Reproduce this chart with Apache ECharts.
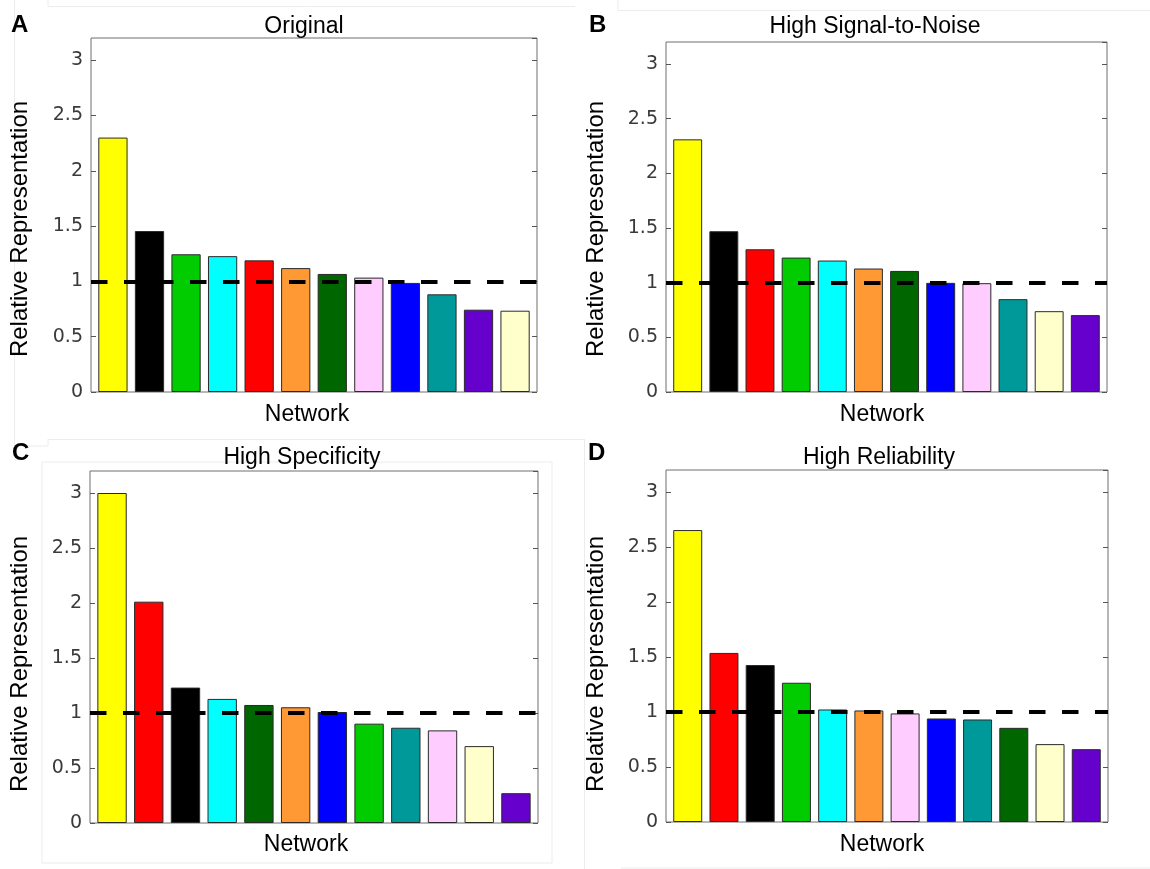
<!DOCTYPE html>
<html>
<head>
<meta charset="utf-8">
<script src="https://cdn.jsdelivr.net/npm/echarts@6/dist/echarts.min.js"></script>
<style>
  html, body { margin: 0; padding: 0; background: #fff; }
  #chart { width: 1150px; height: 869px; }
</style>
</head>
<body>
<div id="chart"></div>
<script>
// network colours (MATLAB style)
const palette = {
  yellow: '#ffff00', black: '#000000', green: '#00cc00', cyan: '#00ffff',
  red: '#ff0000', orange: '#ff9933', darkGreen: '#006600', pink: '#ffccff',
  blue: '#0000ff', teal: '#009999', purple: '#6600cc', cream: '#ffffcc'
};

// panel data
const panelLetters = ['A', 'B', 'C', 'D'];
const panelTitles = ['Original', 'High Signal-to-Noise', 'High Specificity', 'High Reliability'];

const orderA = ['yellow', 'black', 'green', 'cyan', 'red', 'orange', 'darkGreen', 'pink', 'blue', 'teal', 'purple', 'cream'];
const valuesA = [2.30, 1.455, 1.245, 1.228, 1.19, 1.12, 1.067, 1.034, 0.986, 0.883, 0.744, 0.735];

const orderB = ['yellow', 'black', 'red', 'green', 'cyan', 'orange', 'darkGreen', 'blue', 'pink', 'teal', 'cream', 'purple'];
const valuesB = [2.31, 1.47, 1.305, 1.229, 1.202, 1.129, 1.107, 0.998, 0.995, 0.849, 0.739, 0.703];

const orderC = ['yellow', 'red', 'black', 'cyan', 'darkGreen', 'orange', 'blue', 'green', 'teal', 'pink', 'cream', 'purple'];
const valuesC = [3.0, 2.012, 1.231, 1.128, 1.073, 1.052, 1.009, 0.903, 0.866, 0.842, 0.699, 0.271];

const orderD = ['yellow', 'red', 'black', 'green', 'cyan', 'orange', 'pink', 'blue', 'teal', 'darkGreen', 'cream', 'purple'];
const valuesD = [2.654, 1.537, 1.427, 1.266, 1.023, 1.014, 0.987, 0.941, 0.932, 0.856, 0.708, 0.662];

const yTicks = [0, 0.5, 1, 1.5, 2, 2.5, 3];
const referenceLevel = 1;

const orders = [orderA, orderB, orderC, orderD];
const values = [valuesA, valuesB, valuesC, valuesD];

// layout of the four axes boxes
const boxes = [
  { left: 91, top: 38, width: 446, height: 354 },
  { left: 666, top: 42, width: 441, height: 350 },
  { left: 90, top: 471, width: 448, height: 352 },
  { left: 666, top: 470, width: 442, height: 352 }
];
const titlePos = [[304, 15], [875, 15], [302, 446], [879, 446]];
const xNamePos = [[307, 403], [882, 403], [306, 833], [882, 833]];
const yNamePos = [[20, 229], [596, 229], [20, 664], [596, 664]];
const letterPos = [[11, 13], [589, 13], [12, 441], [588, 441]];

const font = 'Liberation Sans, Arial, Helvetica, sans-serif';

var myChart = echarts.init(document.getElementById('chart'));

let grid = [], xAxis = [], yAxis = [], series = [], graphic = [];

for (let i = 0; i < 4; i++) {
  const b = boxes[i];
  grid.push({
    left: b.left, top: b.top, width: b.width, height: b.height,
    show: true, borderColor: '#6e6e6e', borderWidth: 1, backgroundColor: '#fff'
  });
  xAxis.push({
    gridIndex: i, type: 'value', min: 0.4, max: 12.6,
    axisLine: { show: false }, axisTick: { show: false },
    axisLabel: { show: false }, splitLine: { show: false }
  });
  const yCommon = {
    gridIndex: i, type: 'value', min: 0, max: 3.2, interval: 0.5,
    axisLine: { show: false }, splitLine: { show: false },
    axisTick: { show: true, inside: true, length: 5, lineStyle: { color: '#555' } }
  };
  yAxis.push(Object.assign({}, yCommon, {
    position: 'left',
    axisLabel: {
      show: true, margin: 8, fontSize: 19, color: '#3a3a3a',
      fontFamily: 'DejaVu Sans', showMaxLabel: false,
      formatter: v => (yTicks.indexOf(v) >= 0 ? String(v) : '')
    }
  }));
  yAxis.push(Object.assign({}, yCommon, {
    position: 'right', axisLabel: { show: false }
  }));

  const data = values[i].map((v, k) => ({
    value: [k + 1, v],
    itemStyle: { color: palette[orders[i][k]] }
  }));
  series.push({
    type: 'bar',
    xAxisIndex: i,
    yAxisIndex: 2 * i,
    barWidth: 0.8 * b.width / 12.2,
    data: data,
    itemStyle: { borderColor: '#2a2a2a', borderWidth: 1 },
    animation: false,
    markLine: {
      silent: true, symbol: 'none', animation: false,
      label: { show: false },
      lineStyle: { color: '#000', width: 4, type: [16.5, 16.5], cap: 'butt' },
      data: [{ yAxis: referenceLevel }]
    }
  });

  // titles, axis names and panel letters
  graphic.push({
    type: 'text', x: titlePos[i][0], y: titlePos[i][1],
    style: { text: panelTitles[i], font: '23px ' + font, fill: '#000', textAlign: 'center', textVerticalAlign: 'top' }
  });
  graphic.push({
    type: 'text', x: xNamePos[i][0], y: xNamePos[i][1],
    style: { text: 'Network', font: '23px ' + font, fill: '#000', textAlign: 'center', textVerticalAlign: 'top' }
  });
  graphic.push({
    type: 'text', x: yNamePos[i][0], y: yNamePos[i][1], rotation: Math.PI / 2,
    style: { text: 'Relative Representation', font: '24px ' + font, fill: '#000', textAlign: 'center', textVerticalAlign: 'middle' }
  });
  graphic.push({
    type: 'text', x: letterPos[i][0], y: letterPos[i][1],
    style: { text: panelLetters[i], font: 'bold 24px ' + font, fill: '#000', textAlign: 'left', textVerticalAlign: 'top' }
  });
}

// faint panel frames left over from the figure composition
const faint = { stroke: '#ececec', lineWidth: 1 };
[
  [14.5, 0, 14.5, 446], [14.5, 446, 48, 446], [48, 439, 48, 446], [48, 439.5, 584, 439.5],
  [48, 0, 48, 6.5], [48, 6.5, 575, 6.5], [618, 0, 618, 10.5], [618, 10.5, 1150, 10.5],
  [584.5, 439, 584.5, 869], [621, 868, 1150, 868]
].forEach(l => graphic.push({ type: 'line', silent: true, z: -1, shape: { x1: l[0], y1: l[1], x2: l[2], y2: l[3] }, style: faint }));
graphic.push({ type: 'rect', silent: true, z: -1, shape: { x: 42, y: 462, width: 510, height: 401 }, style: { fill: null, stroke: '#ececec', lineWidth: 1 } });

var option = {
  backgroundColor: '#fff',
  animation: false,
  grid: grid,
  xAxis: xAxis,
  yAxis: yAxis,
  series: series,
  graphic: graphic
};
myChart.setOption(option, true);
window.onresize = myChart.resize;
</script>
</body>
</html>
